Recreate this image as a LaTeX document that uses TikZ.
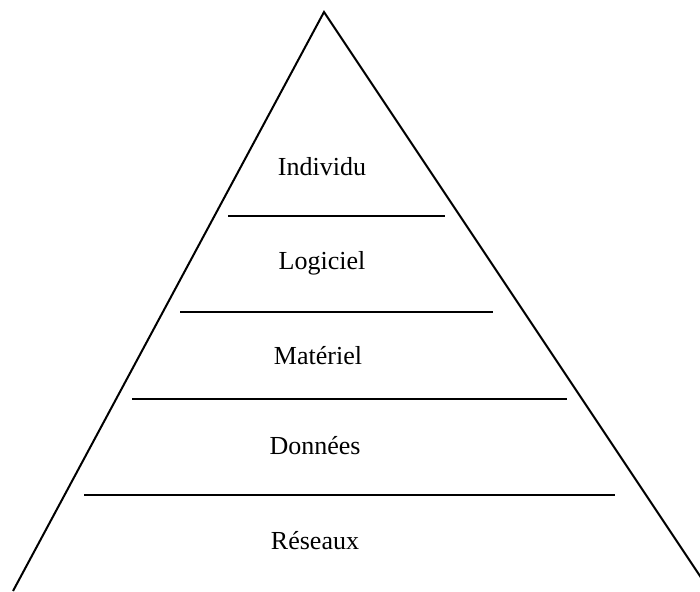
\documentclass[tikz,border=0pt]{standalone}
\usepackage{fontspec}
\setmainfont{Liberation Serif}
\usetikzlibrary{positioning}

\begin{document}
\begin{tikzpicture}[x=0.5pt, y=0.5pt, line width=1pt,
    niveau/.style={font=\fontsize{13}{15}\selectfont}]
    % cadre
    \useasboundingbox (0,0) rectangle (700,591);
    \clip (0,0) rectangle (700,591);

    % sommets de la pyramide
    \coordinate (S) at (324, 579);
    \coordinate (G) at (13, 0);
    \coordinate (D) at (710, 0);

    % cotes
    \draw (G) -- (S) -- (D);

    % separations
    \draw (228, 375) -- (445, 375);
    \draw (180, 279) -- (493, 279);
    \draw (132, 192) -- (567, 192);
    \draw (84, 96) -- (615, 96);

    % niveaux
    \node[niveau] (individu) at (322, 424) {Individu};
    \node[niveau] (logiciel) at (322, 328) {Logiciel};
    \node[niveau] (materiel) at (318, 235) {Matériel};
    \node[niveau] (donnees) at (315, 145) {Données};
    \node[niveau] (reseaux) at (315, 50) {Réseaux};
\end{tikzpicture}
\end{document}
